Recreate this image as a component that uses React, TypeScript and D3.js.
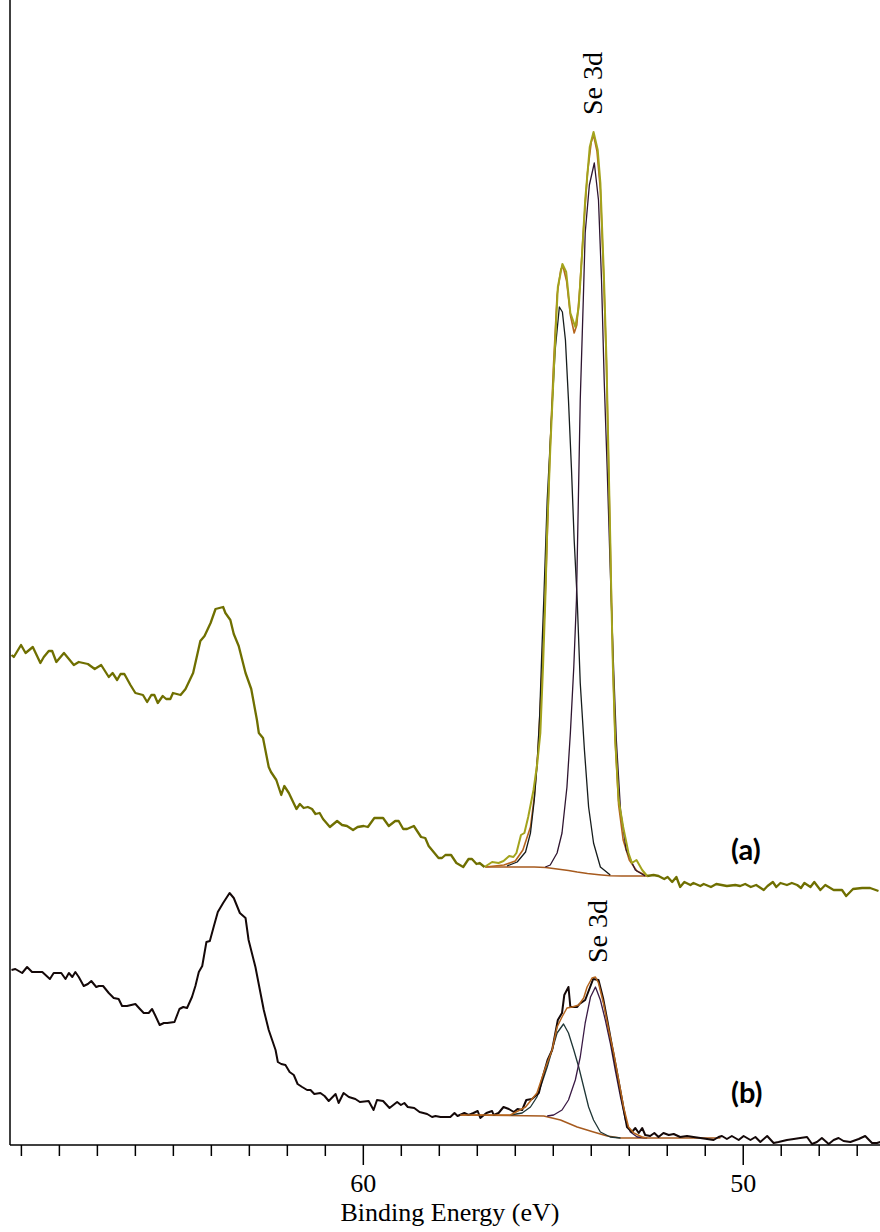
import * as d3 from 'd3';

// binding energy (eV) / intensity (arb. units)
// trace (a), survey part outside the fit window
const aLeftE = [69.26, 69.2, 69.01, 68.89, 68.7, 68.5, 68.41, 68.28, 68.19, 68.08, 67.88, 67.62, 67.49, 67.25, 67.07, 66.9, 66.7, 66.6, 66.48, 66.39, 66.29, 66.13, 66.0, 65.8, 65.69, 65.58, 65.5, 65.41, 65.28, 65.19, 65.08, 65.01, 64.81, 64.68, 64.48, 64.29, 64.18, 64.02, 63.89, 63.69, 63.63, 63.5, 63.41, 63.28, 63.1, 62.95, 62.8, 62.75, 62.64, 62.49, 62.43, 62.29, 62.16, 62.08, 61.96, 61.76, 61.67, 61.57, 61.46, 61.35, 61.26, 61.15, 61.06, 60.88, 60.69, 60.56, 60.43, 60.27, 60.15, 59.99, 59.88, 59.71, 59.48, 59.33, 59.16, 59.07, 58.95, 58.85, 58.67, 58.48, 58.37, 58.28, 58.15, 58.02, 57.93, 57.84, 57.69, 57.55, 57.37, 57.23, 57.14, 57.02, 56.94, 56.81];
const aLeftI = [490, 488, 500, 492, 498, 482, 488, 494, 494, 483, 492, 480, 483, 481, 476, 480, 468, 472, 465, 471, 471, 460, 452, 450, 443, 450, 450, 442, 449, 446, 446, 452, 450, 456, 472, 504, 509, 522, 536, 538, 532, 525, 511, 499, 472, 456, 425, 412, 407, 378, 373, 365, 350, 359, 352, 336, 341, 337, 338, 336, 331, 332, 326, 318, 324, 320, 319, 315, 318, 319, 318, 327, 327, 319, 324, 324, 316, 316, 319, 308, 307, 299, 293, 287, 287, 290, 290, 282, 278, 286, 286, 281, 282, 278];

// trace (a), inside the Se 3d fit window
const aFitE = [56.81, 56.61, 56.44, 56.31, 56.16, 56.05, 55.97, 55.85, 55.76, 55.66, 55.52, 55.42, 55.34, 55.27, 55.21, 55.16, 55.08, 54.97, 54.88, 54.76, 54.66, 54.55, 54.42, 54.33, 54.24, 54.16, 54.04, 53.94, 53.83, 53.76, 53.67, 53.6, 53.55, 53.5, 53.47, 53.43, 53.37, 53.28, 53.16, 53.02, 52.93, 52.81, 52.66, 52.53];
const aFitI = [278, 283, 282, 284, 289, 288, 292, 310, 312, 328, 355, 382, 412, 478, 545, 615, 695, 788, 858, 881, 873, 832, 818, 838, 892, 945, 998, 1013, 995, 962, 872, 785, 695, 605, 545, 478, 405, 345, 318, 292, 282, 285, 275, 269];

// trace (a), right of the fit window
const aRightE = [52.53, 52.36, 52.23, 52.08, 51.99, 51.87, 51.76, 51.66, 51.55, 51.39, 51.31, 51.13, 51.04, 50.85, 50.71, 50.43, 50.21, 50.08, 49.95, 49.8, 49.66, 49.46, 49.36, 49.22, 49.13, 49.02, 48.85, 48.72, 48.58, 48.48, 48.39, 48.23, 48.13, 47.97, 47.84, 47.62, 47.4, 47.29, 47.11, 46.87, 46.66, 46.44];
const aRightI = [269, 270, 269, 266, 268, 263, 268, 258, 263, 260, 262, 259, 261, 258, 261, 259, 260, 259, 261, 258, 260, 255, 259, 263, 258, 262, 260, 262, 260, 257, 262, 258, 263, 255, 260, 255, 255, 249, 256, 257, 257, 254];

const aEnvE = [56.79, 56.3, 56.0, 55.8, 55.6, 55.5, 55.4, 55.3, 55.2, 55.1, 55.0, 54.9, 54.8, 54.74, 54.65, 54.55, 54.45, 54.38, 54.3, 54.2, 54.1, 54.0, 53.94, 53.85, 53.76, 53.67, 53.6, 53.55, 53.5, 53.43, 53.37, 53.28, 53.16, 53.0, 52.8, 52.53];
const aEnvI = [278, 280, 284, 295, 318, 348, 395, 470, 560, 680, 775, 850, 876, 878, 864, 830, 812, 820, 858, 918, 972, 1003, 1010, 994, 955, 865, 780, 690, 600, 480, 405, 340, 305, 285, 274, 269];

const aBgE = [56.79, 55.5, 55.2, 54.9, 54.6, 54.37, 54.1, 53.8, 53.5, 53.2, 52.53];
const aBgI = [278, 278, 277.5, 276, 274.5, 273, 271.5, 270.3, 269.3, 269, 269];

const aComp1E = [56.22, 55.95, 55.73, 55.6, 55.5, 55.43, 55.36, 55.3, 55.25, 55.16, 55.05, 54.95, 54.84, 54.76, 54.68, 54.6, 54.52, 54.45, 54.37, 54.29, 54.18, 54.07, 53.94, 53.76, 53.5];
const aComp1I = [279, 283, 293, 312, 345, 378, 428, 495, 545, 645, 725, 795, 838, 833, 805, 745, 675, 605, 545, 462, 395, 338, 302, 278, 270];

const aComp2E = [55.21, 55.08, 54.9, 54.77, 54.64, 54.55, 54.46, 54.39, 54.34, 54.29, 54.21, 54.16, 54.05, 53.92, 53.81, 53.73, 53.66, 53.58, 53.5, 53.42, 53.34, 53.23, 53.08, 52.84, 52.58];
const aComp2I = [278, 280, 292, 312, 358, 412, 478, 545, 645, 745, 845, 912, 960, 982, 945, 865, 765, 675, 575, 485, 405, 335, 295, 275, 269];

// trace (b)
const bDataE = [69.26, 69.16, 68.98, 68.85, 68.72, 68.45, 68.25, 68.15, 67.95, 67.84, 67.75, 67.66, 67.58, 67.49, 67.36, 67.25, 67.16, 67.03, 66.96, 66.85, 66.7, 66.57, 66.44, 66.35, 66.22, 66.0, 65.88, 65.78, 65.65, 65.56, 65.47, 65.36, 65.25, 65.16, 64.97, 64.84, 64.74, 64.64, 64.51, 64.42, 64.33, 64.24, 64.13, 64.04, 63.94, 63.83, 63.69, 63.52, 63.41, 63.25, 63.1, 63.02, 62.84, 62.62, 62.49, 62.4, 62.31, 62.25, 62.16, 62.05, 61.94, 61.83, 61.73, 61.61, 61.48, 61.39, 61.29, 61.13, 61.02, 60.91, 60.73, 60.65, 60.52, 60.38, 60.21, 60.09, 59.86, 59.73, 59.64, 59.48, 59.31, 59.11, 59.01, 58.92, 58.83, 58.66, 58.52, 58.32, 58.19, 58.1, 57.97, 57.71, 57.6, 57.52, 57.34, 57.23, 57.1, 56.99, 56.92, 56.76, 56.61, 56.57, 56.44, 56.31, 56.17, 56.04, 55.94, 55.82, 55.71, 55.56, 55.38, 55.3, 55.15, 55.03, 54.88, 54.77, 54.71, 54.6, 54.55, 54.37, 54.31, 54.16, 54.02, 53.95, 53.81, 53.69, 53.58, 53.45, 53.32, 53.19, 53.06, 52.93, 52.84, 52.75, 52.66, 52.58, 52.45, 52.34, 52.23, 52.1, 51.96, 51.83, 51.66, 51.48, 51.31, 51.13, 50.95, 50.78, 50.65, 50.56, 50.43, 50.3, 50.12, 49.99, 49.81, 49.68, 49.55, 49.37, 49.2, 49.07, 48.85, 48.67, 48.5, 48.32, 48.19, 48.06, 47.93, 47.75, 47.62, 47.49, 47.36, 47.18, 46.96, 46.79, 46.61, 46.48, 46.39];
const bDataI = [175, 176, 172, 178, 173, 173, 166, 172, 172, 166, 172, 168, 173, 168, 159, 161, 164, 158, 159, 159, 152, 147, 146, 139, 139, 141, 136, 132, 132, 136, 129, 120, 122, 122, 123, 136, 138, 137, 148, 159, 173, 179, 203, 204, 218, 233, 242, 252, 247, 232, 227, 205, 178, 135, 115, 105, 95, 83, 81, 80, 73, 70, 61, 58, 55, 55, 51, 52, 49, 44, 51, 42, 52, 48, 46, 43, 44, 35, 45, 44, 37, 43, 40, 42, 38, 37, 33, 31, 28, 29, 28, 28, 32, 29, 32, 30, 32, 34, 27, 32, 34, 30, 32, 38, 36, 33, 36, 35, 45, 46, 52, 65, 85, 95, 125, 132, 150, 158, 138, 138, 141, 145, 159, 166, 165, 147, 125, 98, 72, 45, 18, 13, 17, 12, 17, 10, 9, 12, 8, 12, 10, 11, 8, 9, 8, 7, 6, 5, 8, 9, 6, 9, 5, 9, 5, 8, 3, 9, 2, 3, 5, 6, 7, 8, 1, 3, 7, 1, 5, 7, 4, 3, 6, 9, 2, 2, 3];

const bEnvE = [57.45, 56.13, 55.73, 55.43, 55.21, 55.03, 54.9, 54.77, 54.64, 54.5, 54.33, 54.2, 54.11, 53.98, 53.89, 53.81, 53.68, 53.54, 53.41, 53.28, 53.15, 53.02, 52.88, 52.66, 52.53];
const bEnvI = [30, 30, 38, 52, 77, 95, 118, 128, 137, 138, 140, 147, 158, 167, 168, 162, 142, 115, 92, 65, 38, 18, 12, 8, 7];

const bBgE = [57.45, 55.25, 54.81, 54.37, 53.94, 53.58, 53.23, 50.6];
const bBgI = [30, 29, 25, 18, 13, 9, 7, 7];

const bComp1E = [56.13, 55.82, 55.6, 55.43, 55.3, 55.16, 55.03, 54.9, 54.73, 54.6, 54.46, 54.33, 54.2, 54.07, 53.94, 53.76, 53.5, 53.23];
const bComp1I = [30, 32, 38, 48, 62, 78, 95, 112, 121, 112, 95, 78, 58, 38, 25, 13, 8, 7];

const bComp2E = [55.16, 54.99, 54.77, 54.6, 54.42, 54.29, 54.16, 54.02, 53.89, 53.76, 53.63, 53.5, 53.37, 53.23, 53.1, 52.97, 52.79, 52.53];
const bComp2I = [29, 30, 35, 45, 65, 88, 122, 148, 158, 145, 125, 102, 75, 48, 25, 13, 8, 7];

const majorTicks = [60, 50];
const minorTicks = d3.range(47, 70).filter(v => !majorTicks.includes(v));

const W = 880;
const H = 1232;
const left = 10;
const bottom = 1145;

const x = d3.scaleLinear().domain([69.3, 46.4]).range([left, W]);
const y = d3.scaleLinear().domain([0, 1145]).range([bottom, 0]);

const line = d3.line<[number, number]>()
  .x(d => x(d[0]))
  .y(d => y(d[1]));

const path = (es: number[], is: number[]) => line(es.map((e, i) => [e, is[i]] as [number, number])) || '';

const serif = { fontFamily: "'Liberation Serif', 'Times New Roman', serif" };

export default function App() {
  return (
    <svg width={W} height={H} style={{ position: 'absolute', left: 0, top: 0, background: '#fff' }}>
      <g fill="none" strokeLinejoin="round">
        {/* trace (a) */}
        <path d={path(aBgE, aBgI)} stroke="#a65a1e" strokeWidth={1.5} />
        <path d={path(aEnvE, aEnvI)} stroke="#b5651d" strokeWidth={1.6} />
        <path d={path(aComp1E, aComp1I)} stroke="#161c1c" strokeWidth={1.3} />
        <path d={path(aComp2E, aComp2I)} stroke="#2e1530" strokeWidth={1.3} />
        <path d={path(aFitE, aFitI)} stroke="#a3a31c" strokeWidth={2} />
        <path d={path(aLeftE, aLeftI)} stroke="#6f6f00" strokeWidth={2.3} />
        <path d={path(aRightE, aRightI)} stroke="#6f6f00" strokeWidth={2.3} />

        {/* trace (b) */}
        <path d={path(bBgE, bBgI)} stroke="#a65a1e" strokeWidth={1.5} />
        <path d={path(bComp1E, bComp1I)} stroke="#1e3535" strokeWidth={1.3} />
        <path d={path(bComp2E, bComp2I)} stroke="#3a1a45" strokeWidth={1.3} />
        <path d={path(bDataE, bDataI)} stroke="#140808" strokeWidth={2} />
        <path d={path(bEnvE, bEnvI)} stroke="#b5651d" strokeWidth={1.5} />
      </g>

      {/* axes */}
      <g stroke="#000" strokeWidth={1.5}>
        <line x1={left} x2={left} y1={0} y2={bottom} />
        <line x1={left} x2={W} y1={bottom} y2={bottom} />
        {minorTicks.map(t => (
          <line key={t} x1={x(t)} x2={x(t)} y1={bottom} y2={bottom + 11} />
        ))}
        {majorTicks.map(t => (
          <line key={t} x1={x(t)} x2={x(t)} y1={bottom} y2={bottom + 20} />
        ))}
      </g>
      <g fontSize={26} fill="#000" textAnchor="middle">
        {majorTicks.map(t => (
          <text key={t} x={x(t)} y={1192} style={serif}>{t}</text>
        ))}
        <text x={450} y={1221} style={serif}>Binding Energy (eV)</text>
      </g>

      {/* peak labels */}
      <g fontSize={28} fill="#000">
        <text style={serif} transform={`translate(${x(53.92) + 8},${y(1030)}) rotate(-90)`}>Se 3d</text>
        <text style={serif} transform={`translate(${x(53.89) + 12},${y(182)}) rotate(-90)`}>Se 3d</text>
      </g>
      <g fontWeight={700} fontSize={29} fill="#000" style={{ fontFamily: "Lato, 'Open Sans', sans-serif" }}>
        <text x={731} y={860}>(a)</text>
        <text x={731} y={1103}>(b)</text>
      </g>
    </svg>
  );
}
